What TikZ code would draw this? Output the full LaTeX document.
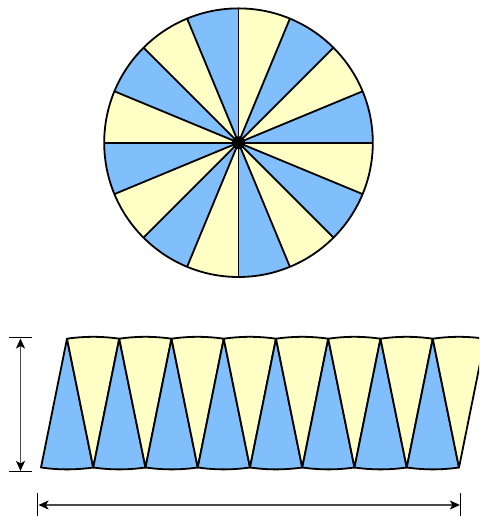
\documentclass[tikz,border=0pt]{standalone}
\usetikzlibrary{arrows.meta,calc}
\definecolor{sblue}{RGB}{128,190,252}
\definecolor{syellow}{RGB}{255,255,198}
\tikzset{
  outline/.style={draw=black,line width=1.8pt,line join=round},
  dimline/.style={draw=black!70,line width=1.5pt},
  dimbar/.style={draw=black,line width=1.5pt},
  dimtip/.style={-{Stealth[length=10pt,width=9pt,inset=2.5pt,color=black]}},
}
\begin{document}
\begin{tikzpicture}[x=1pt,y=1pt]
\useasboundingbox (0,0) rectangle (479,516);
\begin{scope}
\clip (0,0) rectangle (479,516);
% ---- circle ----
\coordinate (C) at (238.5,373.3);
\def\R{134.3}
\foreach \k in {0,...,15}{
  \pgfmathsetmacro{\a}{22.5*\k}
  \pgfmathsetmacro{\b}{22.5*(\k+1)}
  \pgfmathtruncatemacro{\sparity}{mod(\k,2)}
  \ifnum\sparity=0 \def\col{sblue}\else\def\col{syellow}\fi
  \fill[\col] (C) -- ++(\a:\R) arc[start angle=\a,end angle=\b,radius=\R] -- cycle;
}
\foreach \k in {0,...,7}{
  \draw[outline] ($(C)+(22.5*\k:\R)$) -- ($(C)+(22.5*\k+180:\R)$);
}
\draw[outline] (C) circle[radius=\R];
\fill[black] (C) circle[radius=6.5];
% ---- strip ----
\def\yt{177.3}
\def\yb{48.5}
\def\dx{52.25}
\foreach \i in {0,...,7}{
  \pgfmathsetmacro{\xb}{41+\dx*\i}
  \pgfmathsetmacro{\xbn}{41+\dx*(\i+1)}
  \pgfmathsetmacro{\xt}{67+\dx*\i}
  \pgfmathsetmacro{\xtn}{67+\dx*(\i+1)}
  % blue triangle, apex up
  \path[outline,fill=sblue] (\xt,\yt) -- (\xb,\yb)
     .. controls (\xb+17.4,\yb-2.5) and (\xbn-17.4,\yb-2.5) .. (\xbn,\yb) -- cycle;
  % yellow triangle, apex down
  \path[outline,fill=syellow] (\xbn,\yb) -- (\xt,\yt)
     .. controls (\xt+17.4,\yt+2.5) and (\xtn-17.4,\yt+2.5) .. (\xtn,\yt) -- cycle;
}
% ---- dimension arrows ----
\coordinate (vt) at (20.5,178.3);
\coordinate (vb) at (20.5,44.3);
\draw[dimbar] ($(vt)+(-11.5,0)$) -- ($(vt)+(11.5,0)$);
\draw[dimbar] ($(vb)+(-11.5,0)$) -- ($(vb)+(11.5,0)$);
\draw[dimline,dimtip] ($(vt)!0.5!(vb)$) -- ($(vt)+(0,-0.8)$);
\draw[dimline,dimtip] ($(vt)!0.5!(vb)$) -- ($(vb)+(0,0.8)$);
\coordinate (hl) at (37.7,11);
\coordinate (hr) at (460.7,11);
\draw[dimbar] ($(hl)+(0,-12)$) -- ($(hl)+(0,12)$);
\draw[dimbar] ($(hr)+(0,-12)$) -- ($(hr)+(0,12)$);
\draw[dimline,dimtip] ($(hl)!0.5!(hr)$) -- ($(hl)+(0.8,0)$);
\draw[dimline,dimtip] ($(hl)!0.5!(hr)$) -- ($(hr)+(-0.8,0)$);
\end{scope}
\end{tikzpicture}
\end{document}
